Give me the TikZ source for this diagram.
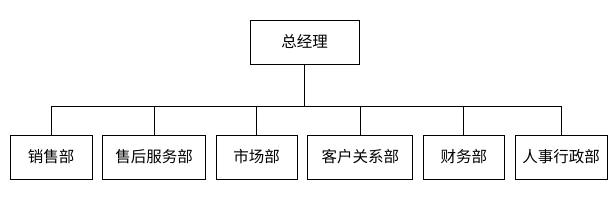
\documentclass[tikz,border=0pt]{standalone}
\usepackage{fontspec}
\newfontfamily\cjk{Noto Sans CJK SC}
\usetikzlibrary{positioning}

\begin{document}
\begin{tikzpicture}[
  x=1pt, y=-1pt,
  node distance=9.7pt,
  box/.style={draw=black, fill=white, line width=0.9pt, inner sep=0pt,
              minimum height=44pt, align=center,
              font=\cjk\fontsize{15.5}{18}\selectfont}]
\useasboundingbox (0,0) rectangle (614,200);
\node[box, minimum width=109pt] (ceo) at (304.5,42) {总经理};
\node[box, minimum width=82pt] (sales) at (51,157) {销售部};
\node[box, minimum width=103pt, right=of sales] (service) {售后服务部};
\node[box, minimum width=81pt, right=of service] (market) {市场部};
\node[box, minimum width=105pt, right=of market] (client) {客户关系部};
\node[box, minimum width=81pt, right=of client] (finance) {财务部};
\node[box, minimum width=92pt, right=of finance] (hr) {人事行政部};
\coordinate (bus) at (0,106);
% connectors
\draw[line width=0.9pt] (ceo.south) -- (ceo.south |- bus);
\draw[line width=0.9pt] (sales.north) -- (sales.north |- bus) -- (hr.north |- bus) -- (hr.north);
\foreach \dept in {service,market,client,finance}
  \draw[line width=0.9pt] (\dept.north) -- (\dept.north |- bus);
\end{tikzpicture}
\end{document}
